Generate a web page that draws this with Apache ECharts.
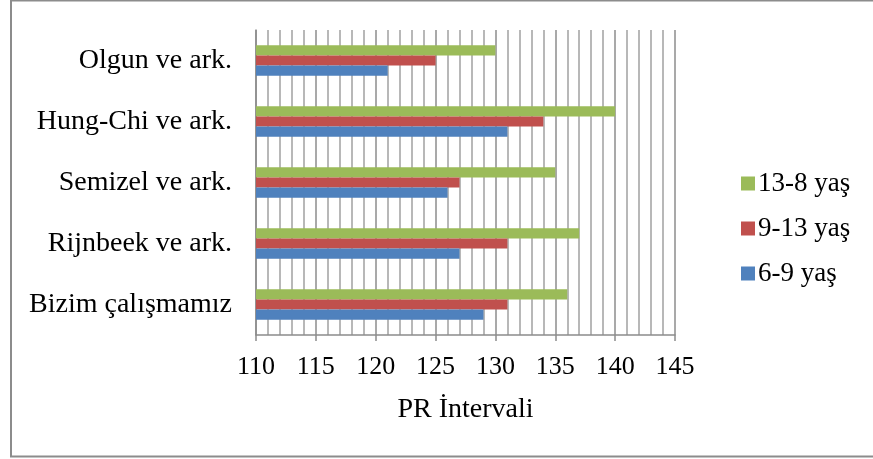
<!DOCTYPE html>
<html>
<head>
<meta charset="utf-8">
<script src="https://cdn.jsdelivr.net/npm/echarts@6/dist/echarts.min.js"></script>
<style>
  html, body { margin: 0; padding: 0; background: #fff; }
  #chart { width: 873px; height: 459px; }
</style>
</head>
<body>
<div id="chart"></div>
<script>
// Studies, listed bottom to top on the category axis
const studies = ['Bizim çalışmamız', 'Rijnbeek ve ark.', 'Semizel ve ark.', 'Hung-Chi ve ark.', 'Olgun ve ark.'];
// PR interval (ms) by age group, same order as studies
const age6to9 = [129, 127, 126, 131, 121];
const age9to13 = [131, 131, 127, 134, 125];
const age13to8 = [136, 137, 135, 140, 130];
const seriesNames = ['6-9 yaş', '9-13 yaş', '13-8 yaş'];
const xTicks = { min: 110, max: 145, step: 5 };

const serif = '"Liberation Serif", "Times New Roman", serif';
const chart = echarts.init(document.getElementById('chart'), null, { renderer: 'canvas' });

chart.setOption({
  animation: false,
  backgroundColor: '#fff',
  textStyle: { fontFamily: serif, color: '#000' },
  graphic: [{
    type: 'rect',
    shape: { x: 11, y: 0.5, width: 880, height: 456 },
    style: { fill: 'none', stroke: '#8c8c8c', lineWidth: 2 },
    silent: true
  }],
  grid: { left: 256, right: 198, top: 30, bottom: 124 },
  legend: {
    orient: 'vertical',
    left: 736,
    top: 165,
    icon: 'rect',
    itemWidth: 14,
    itemHeight: 14,
    itemGap: 18,
    data: [seriesNames[2], seriesNames[1], seriesNames[0]],
    textStyle: { fontFamily: serif, fontSize: 27, color: '#000', padding: [0, 0, 0, -2] }
  },
  xAxis: {
    type: 'value',
    min: xTicks.min,
    max: xTicks.max,
    interval: xTicks.step,
    name: 'PR İntervali',
    nameLocation: 'middle',
    nameGap: 61,
    nameTextStyle: { fontFamily: serif, fontSize: 28, color: '#000' },
    axisLine: { show: true, lineStyle: { color: '#8c8c8c', width: 1.5 } },
    axisTick: { show: true, length: 6, lineStyle: { color: '#8c8c8c', width: 1.5 } },
    axisLabel: { fontFamily: serif, fontSize: 26, color: '#000', margin: 19 },
    splitLine: { show: true, lineStyle: { color: '#8c8c8c', width: 1.5 } },
    minorTick: { show: false, splitNumber: 5 },
    minorSplitLine: { show: true, lineStyle: { color: '#b8b8b8', width: 2 } }
  },
  yAxis: {
    type: 'category',
    data: studies,
    axisLine: { show: true, lineStyle: { color: '#8c8c8c', width: 1.5 } },
    axisTick: { show: false },
    axisLabel: { fontFamily: serif, fontSize: 28, color: '#000', margin: 24 },
    splitLine: { show: false }
  },
  // within each band the first series sits on top
  series: [
    { name: seriesNames[2], type: 'bar', data: age13to8, itemStyle: { color: '#9BBB59' }, barGap: '0%', barCategoryGap: '50%' },
    { name: seriesNames[1], type: 'bar', data: age9to13, itemStyle: { color: '#C0504D' }, barGap: '0%', barCategoryGap: '50%' },
    { name: seriesNames[0], type: 'bar', data: age6to9, itemStyle: { color: '#4F81BD' }, barGap: '0%', barCategoryGap: '50%' }
  ]
});
</script>
</body>
</html>
